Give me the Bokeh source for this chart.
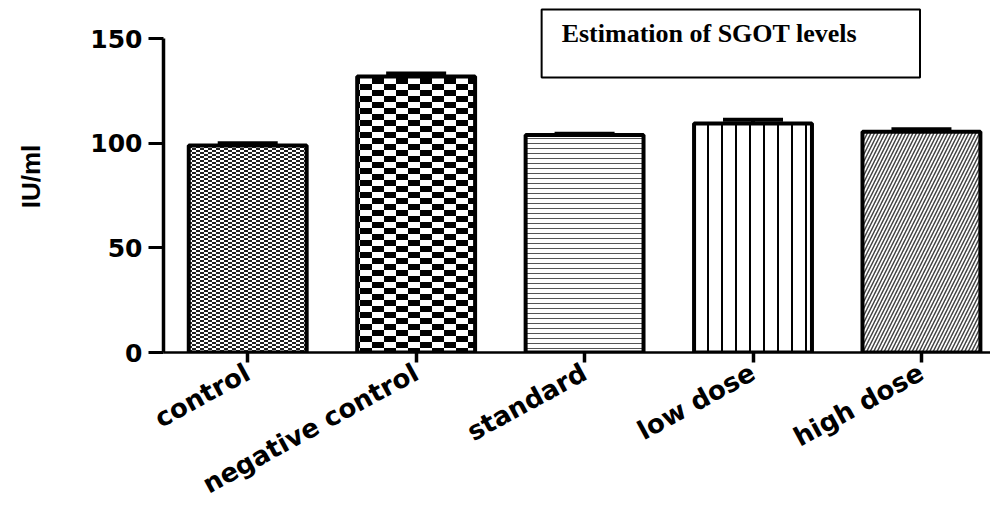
from bokeh.plotting import figure
from bokeh.models import ColumnDataSource, Range1d, FixedTicker, Whisker, TeeHead, Label, CanvasTexture
from bokeh.embed import file_html
from bokeh.resources import INLINE

# ---- data ----
categories = ["control", "negative control", "standard", "low dose", "high dose"]
values = [99.0, 132.0, 104.0, 109.5, 105.5]
errors = [1.0, 1.4, 0.6, 1.8, 1.2]
y_ticks = [0, 50, 100, 150]
y_label = "IU/ml"
title_text = "Estimation of SGOT levels"

# ---- styles ----
patterns = ["fine_checker", "checker", "horizontal_line", "vertical_line", "right_diagonal_line"]
hatch_scales = [8, 24, 5, 14, 7]
hatch_weights = [1.0, 1.0, 1.0, 2.0, 1.5]
hatch_colors = ["#333333", "black", "#555555", "black", "#444444"]


def checker_js(size, css_color):
    return f"""
const c = ctx.canvas;
c.width = {size};
c.height = {size};
ctx.fillStyle = "{css_color}";
const w = {size} / 2;
const h = {size} / 4;
ctx.fillRect(0, 0, w, h);
ctx.fillRect(w, h, w, h);
ctx.fillRect(0, 2 * h, w, h);
ctx.fillRect(w, 3 * h, w, h);
"""


textures = {
    "checker": CanvasTexture(code=checker_js(24, "#000000"), repetition="repeat"),
    "fine_checker": CanvasTexture(code=checker_js(8, "#222222"), repetition="repeat"),
}

xs = list(range(len(categories)))
source = ColumnDataSource(dict(
    x=xs, value=values,
    upper=[v + e for v, e in zip(values, errors)],
    pattern=patterns, hscale=hatch_scales, hweight=hatch_weights, hcolor=hatch_colors,
))

p = figure(width=990, height=515,
           x_range=Range1d(-0.5, 4.41), y_range=Range1d(0, 168.3),
           output_backend="svg", toolbar_location=None,
           min_border_left=163, min_border_top=0, min_border_bottom=162, min_border_right=0)
p.outline_line_color = None
p.xgrid.visible = False
p.ygrid.visible = False
p.background_fill_color = "white"

p.vbar(x="x", top="value", width=0.7, source=source,
       fill_color="white", line_color="black", line_width=4,
       hatch_pattern="pattern", hatch_scale="hscale", hatch_weight="hweight",
       hatch_color="hcolor", hatch_extra=textures)

wh = Whisker(source=source, base="x", upper="upper", lower="value", dimension="height",
             line_width=4, line_color="black",
             upper_head=TeeHead(size=60, line_width=4, line_color="black"),
             lower_head=None, level="overlay")
p.add_layout(wh)

# y axis
ya = p.yaxis[0]
ya.bounds = (0, 150)
ya.ticker = FixedTicker(ticks=y_ticks)
ya.axis_line_width = 3.5
ya.major_tick_line_width = 3
ya.major_tick_out = 15
ya.major_tick_in = 0
ya.minor_tick_line_color = None
ya.major_label_text_font = "DejaVu Sans"
ya.major_label_text_font_style = "bold"
ya.major_label_text_font_size = "25px"
ya.major_label_text_color = "black"
ya.major_label_standoff = 6
ya.axis_label = y_label
ya.axis_label_text_font = "Liberation Sans"
ya.axis_label_text_font_style = "bold"
ya.axis_label_text_font_size = "26px"
ya.axis_label_text_color = "black"
ya.axis_label_standoff = 41

# x axis
xa = p.xaxis[0]
xa.ticker = FixedTicker(ticks=xs)
xa.major_label_overrides = {i: c for i, c in zip(xs, categories)}
xa.major_label_orientation = 0.5
xa.axis_line_width = 2.5
xa.major_tick_line_width = 3.5
xa.major_tick_out = 10
xa.major_tick_in = 0
xa.minor_tick_line_color = None
xa.major_label_text_font = "DejaVu Sans"
xa.major_label_text_font_style = "bold"
xa.major_label_text_font_size = "26px"
xa.major_label_text_color = "black"
xa.major_label_standoff = 8

# padding order observed in the render: (left, right, top, bottom)
title = Label(x=1.745, y=164, x_units="data", y_units="data", text=title_text,
              anchor="top_left", text_font="Liberation Serif", text_font_style="bold",
              text_font_size="26px", text_color="black",
              border_line_color="black", border_line_width=2,
              background_fill_color="white", padding=(20, 63, 10, 29))
p.add_layout(title)

open("out.html", "w").write(file_html(p, INLINE))
